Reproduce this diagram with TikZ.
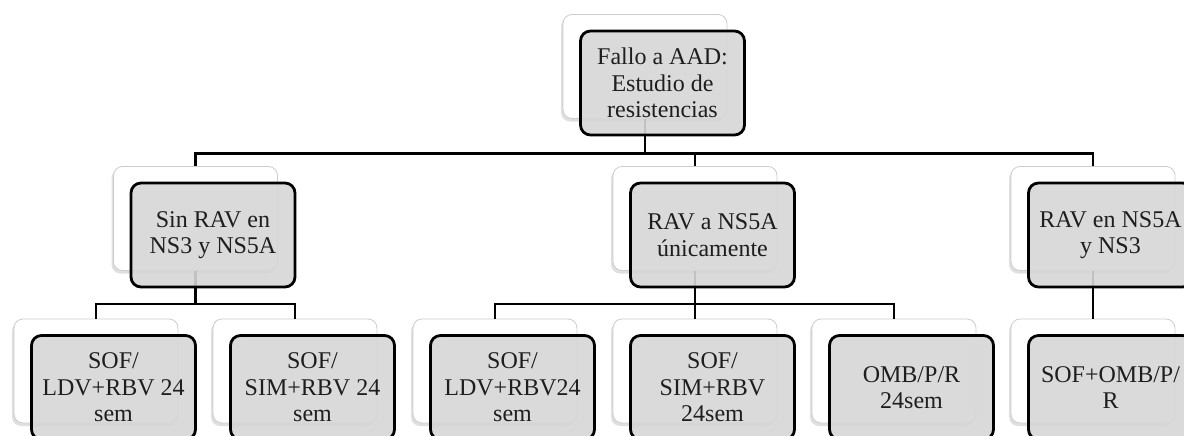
\documentclass[tikz,border=0pt]{standalone}
\usepackage{fontspec}
\setmainfont{Liberation Serif}
\usetikzlibrary{shadows}
\definecolor{boxgray}{RGB}{214,214,214}
\definecolor{cardline}{RGB}{205,205,205}
\definecolor{txt}{RGB}{30,30,30}
\begin{document}
\begin{tikzpicture}[x=1pt,y=-1pt,
  card/.style={draw=cardline, line width=0.8pt, fill=white, rounded corners=9pt,
    minimum width=164pt, minimum height=104pt, inner sep=0pt,
    drop shadow={shadow xshift=-2pt, shadow yshift=-3pt, opacity=0.25}},
  gbox/.style={draw=black, line width=2.8pt, fill=boxgray, fill opacity=0.9, text opacity=1,
    rounded corners=10pt, minimum width=164pt, minimum height=104pt, align=center,
    inner sep=0pt, font=\fontsize{24}{26.5}\selectfont, text=txt},
  link/.style={draw=black, line width=2.4pt}]
\useasboundingbox (0,0) rectangle (1184,436);
% background cards
\node[card] (w0) at (645,66.5) {};
\node[card] (w1) at (195.5,218.5) {};
\node[card] (w2) at (695,218.5) {};
\node[card] (w3) at (1093,218.5) {};
\node[card] (w11) at (96,371) {};
\node[card] (w12) at (295,371) {};
\node[card] (w21) at (495,371) {};
\node[card] (w22) at (695,371) {};
\node[card] (w23) at (894,371) {};
\node[card] (w31) at (1093,371) {};
% connectors
\draw[link] (w0.south) -- ++(0,34.5) -| (w1.north);
\draw[link] (w0.south) -- ++(0,34.5) -| (w2.north);
\draw[link] (w0.south) -- ++(0,34.5) -| (w3.north);
\draw[link] (w1.south) -- ++(0,33) -| (w11.north);
\draw[link] (w1.south) -- ++(0,33) -| (w12.north);
\draw[link] (w2.south) -- ++(0,33) -| (w21.north);
\draw[link] (w2.south) -- ++(0,33) -| (w22.north);
\draw[link] (w2.south) -- ++(0,33) -| (w23.north);
\draw[link] (w3.south) -- (w31.north);
% front boxes
\node[gbox] (g0) at ([shift={(17.5,16.5)}]w0.center) {Fallo a AAD:\\Estudio de\\resistencias};
\node[gbox] (g1) at ([shift={(17.5,16.5)}]w1.center) {Sin RAV en\\NS3 y NS5A};
\node[gbox] (g2) at ([shift={(17.5,16.5)}]w2.center) {RAV a NS5A\\únicamente};
\node[gbox] (g3) at ([shift={(17.5,16.5)}]w3.center) {RAV en NS5A\\y NS3};
\node[gbox] (g11) at ([shift={(17.5,16.5)}]w11.center) {SOF/\\LDV+RBV 24\\sem};
\node[gbox] (g12) at ([shift={(17.5,16.5)}]w12.center) {SOF/\\SIM+RBV 24\\sem};
\node[gbox] (g21) at ([shift={(17.5,16.5)}]w21.center) {SOF/\\LDV+RBV24\\sem};
\node[gbox] (g22) at ([shift={(17.5,16.5)}]w22.center) {SOF/\\SIM+RBV\\24sem};
\node[gbox] (g23) at ([shift={(17.5,16.5)}]w23.center) {OMB/P/R\\24sem};
\node[gbox] (g31) at ([shift={(17.5,16.5)}]w31.center) {SOF+OMB/P/\\R};
\end{tikzpicture}
\end{document}
